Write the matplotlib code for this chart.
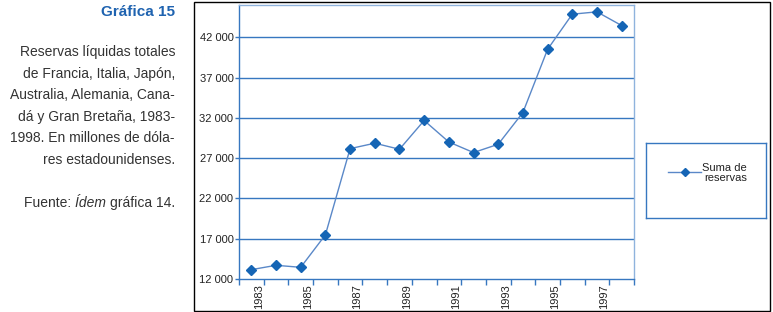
import matplotlib
matplotlib.use("Agg")
from matplotlib import pyplot as plt
import matplotlib.patches as mp

plt.rcParams['font.family'] = ['Liberation Sans', 'DejaVu Sans']

# Data
years = [str(y) for y in range(1983, 1999)]
reservas = [13160, 13700, 13450, 17480, 28180, 28850, 28100, 31670,
            29000, 27690, 28720, 32660, 40500, 44860, 45150, 43450]
yticks = [12000, 17000, 22000, 27000, 32000, 37000, 42000]
ytick_labels = ['12 000', '17 000', '22 000', '27 000', '32 000', '37 000', '42 000']

title = 'Gráfica 15'
desc_lines = ['Reservas líquidas totales',
              'de Francia, Italia, Japón,',
              'Australia, Alemania, Cana-',
              'dá y Gran Bretaña, 1983-',
              '1998. En millones de dóla-',
              'res estadounidenses.']

blue = '#3777c0'
light = '#8fb3dd'
txtc = '#333333'

fig = plt.figure(figsize=(7.73, 3.12), dpi=100)

# outer frame around chart
fig.patches.append(mp.Rectangle((194/773, 1-311/312), (770-194)/773, (311-2)/312,
                                transform=fig.transFigure, fill=False,
                                edgecolor='black', linewidth=1.0))

ax = fig.add_axes([239/773, 1-279/312, (634-239)/773, (279-5)/312])
x = list(range(len(years)))
line, = ax.plot(x, reservas, color='#5a88c8', linewidth=1.0, marker='D',
                markersize=5, markerfacecolor='#1565b5', markeredgecolor='#1565b5',
                label='Suma de\nreservas', zorder=3)

ax.set_xlim(-0.5, len(years) - 0.5)
ax.set_ylim(12000, 46000)
ax.set_yticks(yticks)
ax.set_yticklabels(ytick_labels, fontsize=8, color='#222222')
for yv in yticks[1:]:
    ax.axhline(yv, color=blue, linewidth=1.0, zorder=1)

# category axis: ticks at boundaries, labels every second year (set a bit right, as in the original)
ax.set_xticks([i - 0.5 for i in range(len(years) + 1)])
ax.set_xticklabels([])
ax.set_xticks([i + 0.3 for i in x[::2]], minor=True)
ax.set_xticklabels(years[::2], minor=True, rotation=90, fontsize=8, color='#222222')
ax.tick_params(axis='x', which='major', direction='out', length=4, color=blue, width=1)
ax.tick_params(axis='x', which='minor', length=0, pad=4)
ax.tick_params(axis='y', direction='out', length=3, color=blue, width=1, pad=1)

ax.spines['left'].set_color(blue)
ax.spines['bottom'].set_color(blue)
ax.spines['top'].set_color(light)
ax.spines['right'].set_color(light)
for s in ax.spines.values():
    s.set_linewidth(1.0)

# legend box
lax = fig.add_axes([646/773, 1-218/312, (766-646)/773, (218-143)/312])
lax.set_xlim(0, 120)
lax.set_ylim(75, 0)
lax.set_xticks([])
lax.set_yticks([])
for s in lax.spines.values():
    s.set_color(blue)
    s.set_linewidth(1.0)
lax.plot([22, 55], [29, 29], color='#5a88c8', linewidth=1.0)
lax.plot([38.5], [29], marker='D', markersize=4.5, color='#1565b5')
lax.text(101, 30, line.get_label(), fontsize=8, ha='right', va='center',
         multialignment='right', linespacing=1.1, color='#222222')

# left side text
fig.text(175/773, 1-12/312, title, fontsize=11, fontweight='bold',
         color='#1f63b0', ha='right', va='center')
for i, t in enumerate(desc_lines):
    fig.text(175/773, 1-(52 + i*21.6)/312, t, fontsize=10, ha='right',
             va='center', color=txtc)

# source line with italic word, placed piece by piece from the right
r = fig.canvas.get_renderer()
xr = 175
for t, st in [('gráfica 14.', 'normal'), ('Ídem ', 'italic'), ('Fuente: ', 'normal')]:
    tt = fig.text(xr/773, 1-203/312, t, fontsize=10, ha='right', va='center',
                  style=st, color=txtc)
    xr -= tt.get_window_extent(r).width

fig.savefig('out.png', dpi=100)
